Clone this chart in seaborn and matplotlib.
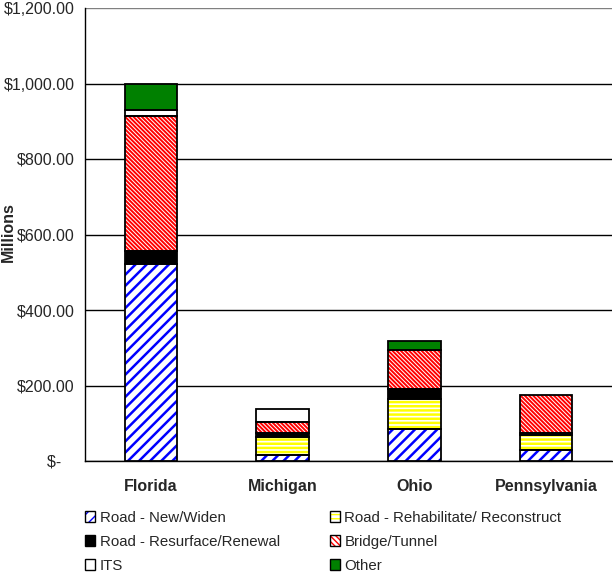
import matplotlib
matplotlib.use("Agg")
import matplotlib.pyplot as plt
import seaborn as sns
import pandas as pd
import numpy as np
from matplotlib.patches import Patch
from matplotlib.ticker import FixedLocator
from matplotlib.legend_handler import HandlerTuple

states = ["Florida", "Michigan", "Ohio", "Pennsylvania"]
new_widen = [521, 16, 86, 29]
rehab = [0, 47, 77, 39]
resurface = [35, 10, 28, 5]
bridge = [357, 31, 103, 101]
its = [18, 33, 0, 0]
other = [68, 0, 23, 0]

series_names = ["Road - New/Widen", "Road - Rehabilitate/ Reconstruct",
                "Road - Resurface/Renewal", "Bridge/Tunnel", "ITS", "Other"]
series_vals = [new_widen, rehab, resurface, bridge, its, other]
yticks = [0, 200, 400, 600, 800, 1000, 1200]
ytick_labels = ["$-   ", "$200.00", "$400.00", "$600.00", "$800.00", "$1,000.00", "$1,200.00"]

# style: (face, hatch color, hatch, hatch linewidth)
styles = [
    ("white", "#0000FF", "///", 1.8),
    ("white", "#FFFF00", "----", 1.8),
    ("black", "black", None, 1.0),
    ("white", "#FF0000", "\\" * 8, 1.4),
    ("white", "white", None, 1.0),
    ("#008000", "#008000", None, 1.0),
]
legend_hatches = ["///", "----", None, "\\" * 6, None, None]

sns.set_style("white")
plt.rcParams["font.family"] = ["Liberation Sans", "DejaVu Sans"]

fig = plt.figure(figsize=(6.13, 5.72), dpi=100)
ax = fig.add_axes([85/613, 1 - 461/572, (612 - 85)/613, (461 - 8)/572])

df = pd.DataFrame({"state": states})
cum = np.zeros(len(states))
cums = []
for vals in series_vals:
    cum = cum + np.array(vals, dtype=float)
    cums.append(cum.copy())

def style_patch(p, i):
    face, hcol, hatch, hlw = styles[i]
    p.set_facecolor(face)
    p.set_edgecolor(hcol)
    p.set_linewidth(0)
    if hatch:
        p.set_hatch(hatch)
        if hasattr(p, "set_hatch_linewidth"):
            p.set_hatch_linewidth(hlw)

# draw layers from top (largest cumulative) to bottom
for i in range(len(series_vals) - 1, -1, -1):
    face, hcol, hatch, hlw = styles[i]
    d = df.copy()
    d["val"] = cums[i]
    n_before = len(ax.patches)
    with plt.rc_context({"hatch.linewidth": hlw}):
        sns.barplot(data=d, x="state", y="val", ax=ax, color=face, width=0.4,
                    saturation=1, errorbar=None, zorder=3)
        for p in ax.patches[n_before:]:
            style_patch(p, i)
    lower = cums[i - 1] if i > 0 else np.zeros(len(states))
    seg = cums[i] - lower
    for j in range(len(states)):
        if seg[j] > 0:
            ax.bar(j, seg[j], bottom=lower[j], width=0.4, facecolor="none",
                   edgecolor="black", linewidth=1.3, zorder=4)

ax.set_ylim(0, 1200)
ax.set_xlim(-0.5, 3.5)
ax.set_yticks(yticks)
ax.set_yticklabels(ytick_labels, fontsize=11.5)
ax.yaxis.grid(True, color="black", linewidth=1.0, zorder=0)
ax.set_axisbelow(True)
ax.set_xticks(range(len(states)))
ax.set_xticklabels(states, fontsize=11.5, fontweight="bold")
ax.xaxis.set_minor_locator(FixedLocator([-0.5, 0.5, 1.5, 2.5, 3.5]))
ax.tick_params(axis="x", which="major", length=0, pad=13)
ax.tick_params(axis="x", which="minor", length=5, width=1, color="black", direction="out")
ax.tick_params(axis="y", length=4, width=1, color="black", direction="out", pad=3.5)
ax.set_xlabel("")
ax.set_ylabel("")
fig.text(8/613, 1 - 232/572, "Millions", rotation=90, fontsize=11.5, fontweight="bold",
         ha="center", va="center")
for s in ["top", "right"]:
    ax.spines[s].set_visible(False)
for s in ["left", "bottom"]:
    ax.spines[s].set_color("black")
    ax.spines[s].set_linewidth(1.0)
ax.yaxis.get_gridlines()[-1].set_color("#808080")

def make_handle(i):
    face, hcol, hatch, hlw = styles[i]
    with plt.rc_context({"hatch.linewidth": 1.2}):
        p = Patch(facecolor=face, edgecolor=hcol, linewidth=0, hatch=legend_hatches[i])
    o = Patch(facecolor="none", edgecolor="black", linewidth=1.0)
    return (p, o)

cols = [[0, 2, 4], [1, 3, 5]]
xs = [80/613, 325/613]
for col, x in zip(cols, xs):
    fig.legend([make_handle(k) for k in col], [series_names[k] for k in col],
               handler_map={tuple: HandlerTuple(ndivide=1, pad=0)},
               loc="upper left", bbox_to_anchor=(x, 1 - 506/572), ncol=1,
               frameon=False, fontsize=10.8, handlelength=0.7, handleheight=0.7,
               handletextpad=0.3, labelspacing=0.68, borderaxespad=0, borderpad=0.3)

fig.savefig("out.png", dpi=100)
